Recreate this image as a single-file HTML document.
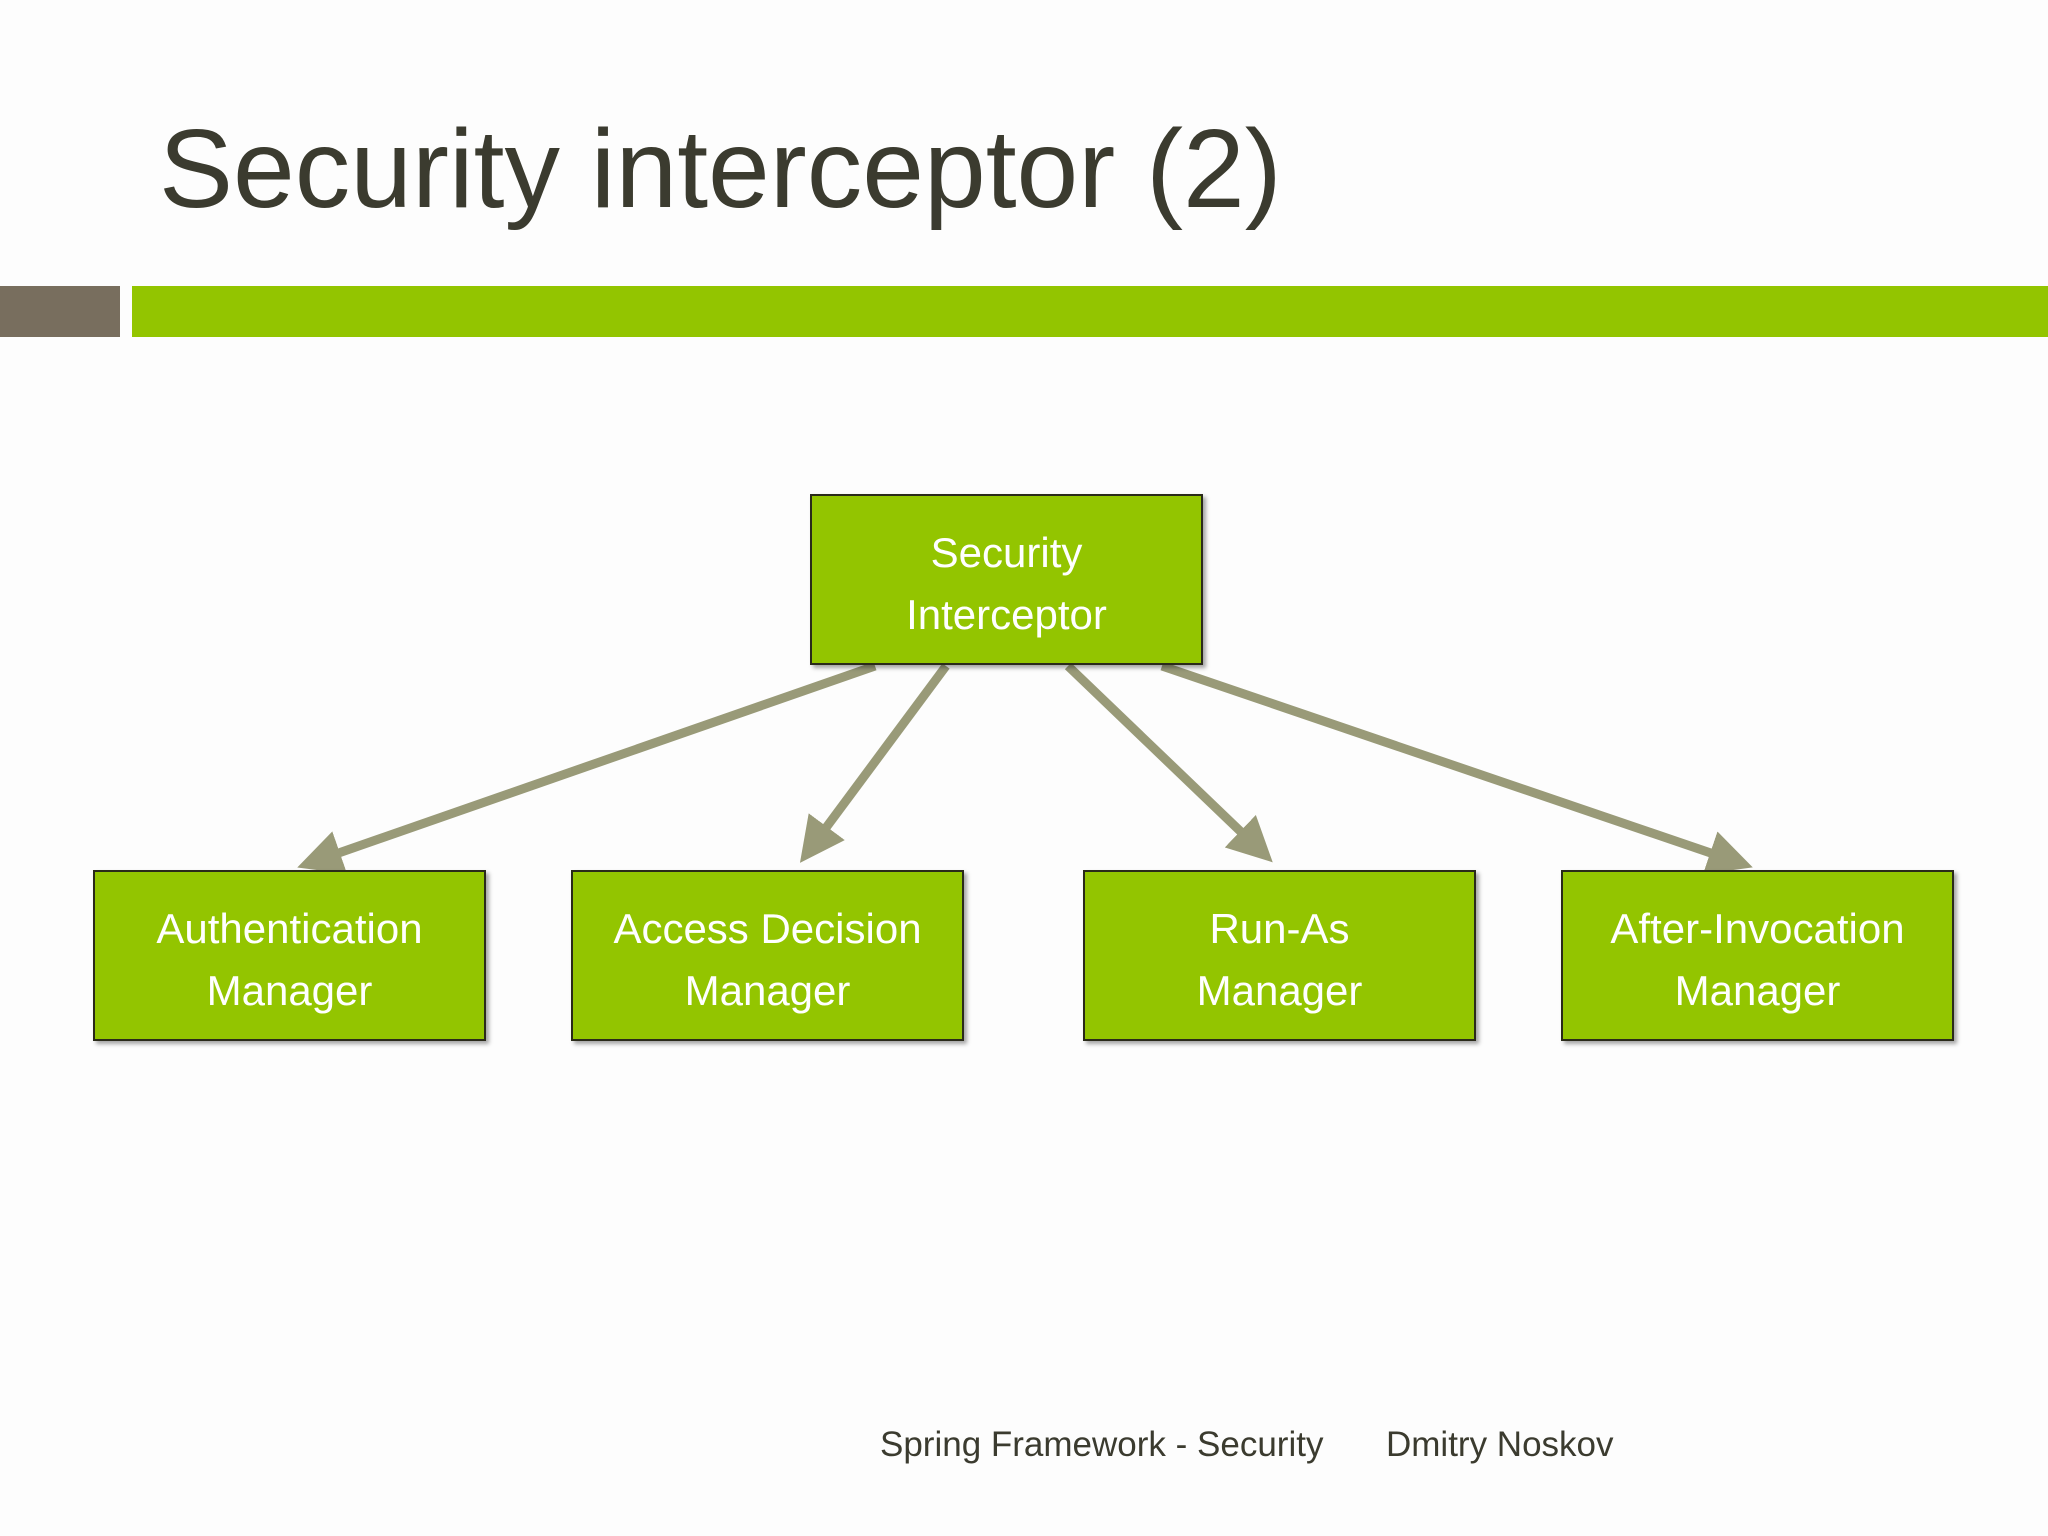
<!DOCTYPE html>
<html><head><meta charset="utf-8"><style>
html,body{margin:0;padding:0}
body{width:2048px;height:1536px;background:#fdfdfd;position:relative;overflow:hidden;font-family:"Liberation Sans",sans-serif}
.t{position:absolute;left:159px;top:105px;font-size:111px;color:#3b3b2f;white-space:nowrap}
.bar1{position:absolute;left:0;top:286px;width:120px;height:51px;background:#786e5e}
.bar2{position:absolute;left:132px;top:286px;width:1916px;height:51px;background:#93c500}
.b{position:absolute;box-sizing:border-box;background:#93c500;border:2px solid #2a2a1a;box-shadow:3px 3px 4px rgba(0,0,0,0.35);color:#fff;font-size:42px;text-align:center;display:flex;flex-direction:column;justify-content:center;line-height:62px;width:393px;height:171px;padding-top:8px}
.f{position:absolute;top:1425px;font-size:35px;color:#3b3b2f;white-space:nowrap}
</style></head><body>
<div class="t">Security interceptor (2)</div>
<div class="bar1"></div><div class="bar2"></div>
<svg width="2048" height="1536" style="position:absolute;left:0;top:0">
<defs><marker id="a" markerWidth="5" markerHeight="5" refX="3.5" refY="2.5" orient="auto" markerUnits="strokeWidth"><path d="M0,0 L5,2.5 L0,5 z" fill="#999a78"/></marker></defs>
<g stroke="#999a78" stroke-width="9" marker-end="url(#a)">
<line x1="875" y1="666" x2="310" y2="863"/>
<line x1="946" y1="666" x2="808" y2="852"/>
<line x1="1068" y1="666" x2="1263" y2="853"/>
<line x1="1162" y1="666" x2="1740" y2="863"/>
</g></svg>
<div class="b" style="left:810px;top:494px">Security<br>Interceptor</div>
<div class="b" style="left:93px;top:870px">Authentication<br>Manager</div>
<div class="b" style="left:571px;top:870px">Access Decision<br>Manager</div>
<div class="b" style="left:1083px;top:870px">Run-As<br>Manager</div>
<div class="b" style="left:1561px;top:870px">After-Invocation<br>Manager</div>
<div class="f" style="left:880px">Spring Framework - Security</div>
<div class="f" style="left:1386px">Dmitry Noskov</div>
</body></html>
